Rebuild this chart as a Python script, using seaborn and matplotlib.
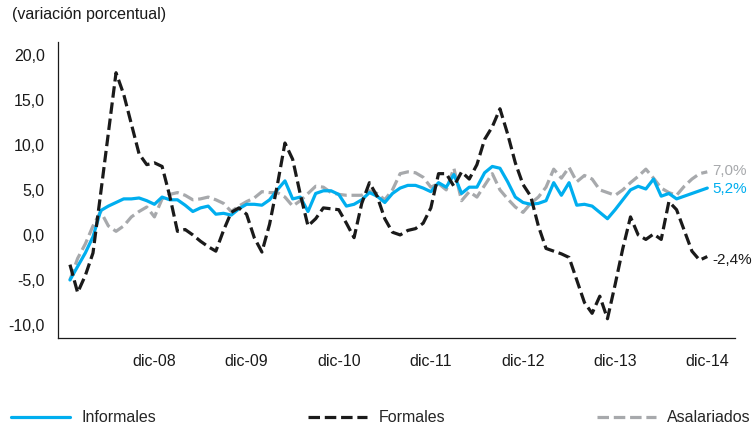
import matplotlib
matplotlib.use("Agg")
import matplotlib.pyplot as plt
import seaborn as sns
import pandas as pd
from matplotlib.lines import Line2D
from matplotlib.ticker import FuncFormatter

# monthly values, jan-2008 .. dic-2014 (84 months)
informales = [
    -5.0, -3.5, -2.0, -0.2, 2.7, 3.2, 3.6, 4.0, 4.0, 4.1, 3.8, 3.4,
    4.2, 3.9, 3.9, 3.3, 2.6, 3.0, 3.2, 2.3, 2.4, 2.2, 2.9, 3.4,
    3.4, 3.3, 3.9, 5.0, 6.0, 4.0, 4.2, 2.6, 4.6, 4.9, 4.9, 4.5,
    3.2, 3.4, 3.9, 4.7, 4.3, 3.6, 4.6, 5.2, 5.5, 5.5, 5.2, 4.8,
    5.8, 5.3, 6.7, 4.6, 5.3, 5.3, 6.9, 7.6, 7.4, 5.9, 4.2, 3.6,
    3.4, 3.5, 3.8, 5.8, 4.4, 5.8, 3.3, 3.4, 3.2, 2.5, 1.8, 2.8,
    3.9, 5.0, 5.4, 5.1, 6.2, 4.3, 4.6, 4.0, 4.3, 4.6, 4.9, 5.2,
]
formales = [
    -3.3, -6.4, -4.5, -2.0, 4.6, 11.3, 18.0, 15.6, 12.3, 9.0, 7.8, 8.0,
    7.6, 4.3, 0.4, 0.6, 0.0, -0.7, -1.3, -1.8, 0.5, 2.5, 3.0, 2.3,
    -0.3, -1.9, 1.2, 5.5, 10.2, 8.4, 4.5, 1.0, 1.8, 3.0, 2.9, 2.8,
    1.3, -0.3, 3.5, 5.8, 4.3, 1.8, 0.3, 0.0, 0.5, 0.7, 1.3, 3.0,
    6.8, 6.8, 5.4, 7.0, 6.2, 7.8, 10.6, 12.0, 14.0, 11.2, 8.0, 5.6,
    4.3, 1.0, -1.5, -1.8, -2.1, -2.5, -5.0, -7.5, -8.7, -6.8, -9.3, -5.5,
    -1.5, 2.0, 0.0, -0.5, 0.1, -0.5, 3.7, 2.8, 0.5, -1.8, -2.8, -2.4,
]
asalariados = [
    -5.0, -2.6, -1.0, 1.0, 2.6, 1.0, 0.4, 1.0, 2.0, 2.6, 3.1, 2.0,
    4.0, 4.5, 4.7, 4.4, 3.9, 4.0, 4.2, 3.9, 3.5, 2.6, 3.2, 3.7,
    4.1, 4.8, 4.7, 4.7, 4.2, 3.2, 3.8, 4.6, 5.4, 5.3, 4.7, 4.5,
    4.4, 4.4, 4.4, 4.9, 4.6, 3.9, 5.0, 6.8, 7.0, 6.9, 6.4, 5.3,
    5.7, 5.0, 7.4, 3.8, 4.8, 4.2, 5.5, 6.8, 5.0, 4.0, 3.1, 2.5,
    3.5, 4.2, 5.3, 7.3, 6.3, 7.5, 5.9, 6.6, 6.2, 5.0, 4.7, 4.4,
    5.0, 5.8, 6.5, 7.3, 6.3, 5.2, 4.7, 4.4, 5.4, 6.2, 6.8, 7.0,
]
tick_labels = ["dic-08", "dic-09", "dic-10", "dic-11", "dic-12", "dic-13", "dic-14"]
end_labels = ["5,2%", "-2,4%", "7,0%"]

months = list(range(len(informales)))
df = pd.DataFrame({"mes": months, "Informales": informales,
                   "Formales": formales, "Asalariados": asalariados})

sns.set_style("white")
plt.rcParams["font.family"] = ["Liberation Sans", "DejaVu Sans"]

fs = 11.5
c_inf = "#00aeef"
c_for = "#1a1a1a"
c_asa = "#a7a9ac"
dash = (0, (3.6, 1.5))

fig = plt.figure(figsize=(7.53, 4.34), dpi=100)
ax = fig.add_axes([0.077, 0.222, 0.899, 0.681])

sns.lineplot(data=df, x="mes", y="Asalariados", ax=ax, color=c_asa, lw=2.3, linestyle=dash)
sns.lineplot(data=df, x="mes", y="Informales", ax=ax, color=c_inf, lw=2.3)
sns.lineplot(data=df, x="mes", y="Formales", ax=ax, color=c_for, lw=2.3, linestyle=dash)

ax.set_xlim(-1.56, 86.6)
ax.set_ylim(-11.4, 21.4)
ax.set_xlabel("")
ax.set_ylabel("")
ax.set_yticks([-10, -5, 0, 5, 10, 15, 20])
ax.yaxis.set_major_formatter(FuncFormatter(lambda v, p: f"{v:.1f}".replace(".", ",")))
ax.set_xticks([11 + 12 * k for k in range(len(tick_labels))])
ax.set_xticklabels(tick_labels)
ax.tick_params(axis="both", direction="in", length=4, width=0.8, colors="#1a1a1a",
               labelsize=fs)
ax.tick_params(axis="y", pad=9.5)
ax.tick_params(axis="x", pad=12)
sns.despine(ax=ax)
for s in ["left", "bottom"]:
    ax.spines[s].set_linewidth(0.9)
    ax.spines[s].set_color("#1a1a1a")

# end-of-series value labels
last = months[-1]
efs = 11
ax.text(last + 0.6, informales[-1] - 0.1, end_labels[0], color=c_inf, fontsize=efs, va="center")
ax.text(last + 0.6, formales[-1] - 0.4, end_labels[1], color=c_for, fontsize=efs, va="center")
ax.text(last + 0.6, asalariados[-1] + 0.1, end_labels[2], color=c_asa, fontsize=efs, va="center")

fig.text(0.016, 1 - 15 / 434, "(variación porcentual)", fontsize=fs, va="center", ha="left",
         color="#1a1a1a")

handles = [Line2D([], [], color=c_inf, lw=2.3),
           Line2D([], [], color=c_for, lw=2.3, linestyle=dash),
           Line2D([], [], color=c_asa, lw=2.3, linestyle=dash)]
fig.legend(handles, ["Informales", "Formales", "Asalariados"], loc="center left",
           bbox_to_anchor=(0.015, 0.037), ncol=3, frameon=False, fontsize=fs,
           handlelength=3.7, handletextpad=0.7, columnspacing=9.5,
           borderpad=0, borderaxespad=0)

fig.savefig("out.png", dpi=100)
